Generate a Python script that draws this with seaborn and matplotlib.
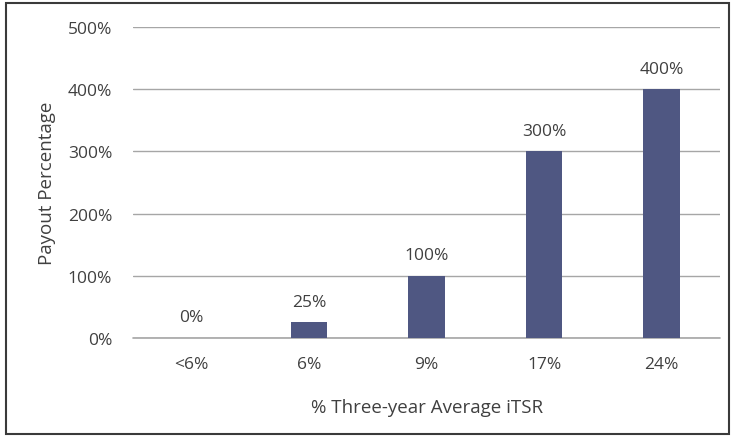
import matplotlib
matplotlib.use("Agg")
import matplotlib.pyplot as plt
import seaborn as sns
import pandas as pd
from matplotlib.patches import Rectangle

categories = ["<6%", "6%", "9%", "17%", "24%"]
payout = [0, 25, 100, 300, 400]
labels = ["0%", "25%", "100%", "300%", "400%"]
yticks = [0, 100, 200, 300, 400, 500]

BAR_COLOR = "#4F5782"
TEXT_COLOR = "#404040"
GRID_COLOR = "#A6A6A6"
FONT = 12.5
LABEL_FONT = 13.5

sns.set_theme(style="white")
plt.rcParams["font.family"] = ["Open Sans", "DejaVu Sans"]

df = pd.DataFrame({"cat": categories, "pay": payout})

fig = plt.figure(figsize=(7.35, 4.39), dpi=100)
ax = fig.add_axes([0.181, 0.228, 0.799, 0.708])
sns.barplot(data=df, x="cat", y="pay", color=BAR_COLOR, saturation=1, width=0.31,
            linewidth=0, ax=ax)

ax.set_ylim(0, 500)
ax.set_xlim(-0.5, len(categories) - 0.5)
ax.set_yticks(yticks, labels=[f"{v}%" for v in yticks])
ax.yaxis.grid(True, color=GRID_COLOR, linewidth=1)
ax.axhline(0, color=GRID_COLOR, linewidth=1.2, clip_on=False, zorder=0.5)
ax.set_axisbelow(True)
for s in ax.spines.values():
    s.set_visible(False)
ax.tick_params(axis="both", length=0, labelsize=FONT, labelcolor=TEXT_COLOR)
ax.tick_params(axis="y", pad=15)
ax.tick_params(axis="x", pad=13)

for i, (v, t) in enumerate(zip(payout, labels)):
    ax.annotate(t, (i, v), xytext=(0, 9), textcoords="offset points",
                ha="center", va="bottom", fontsize=FONT, color=TEXT_COLOR)

ax.set_xlabel("% Three-year Average iTSR", fontsize=LABEL_FONT, color=TEXT_COLOR, labelpad=19)
ax.set_ylabel("Payout Percentage", fontsize=LABEL_FONT, color=TEXT_COLOR)
ax.yaxis.set_label_coords(-0.131, 0.5)

fig.patches.append(Rectangle((0.008, 0.008), 0.984, 0.984, transform=fig.transFigure,
                             fill=False, edgecolor="#3a3a3a", linewidth=1.5))

fig.savefig("out.png", dpi=100)
